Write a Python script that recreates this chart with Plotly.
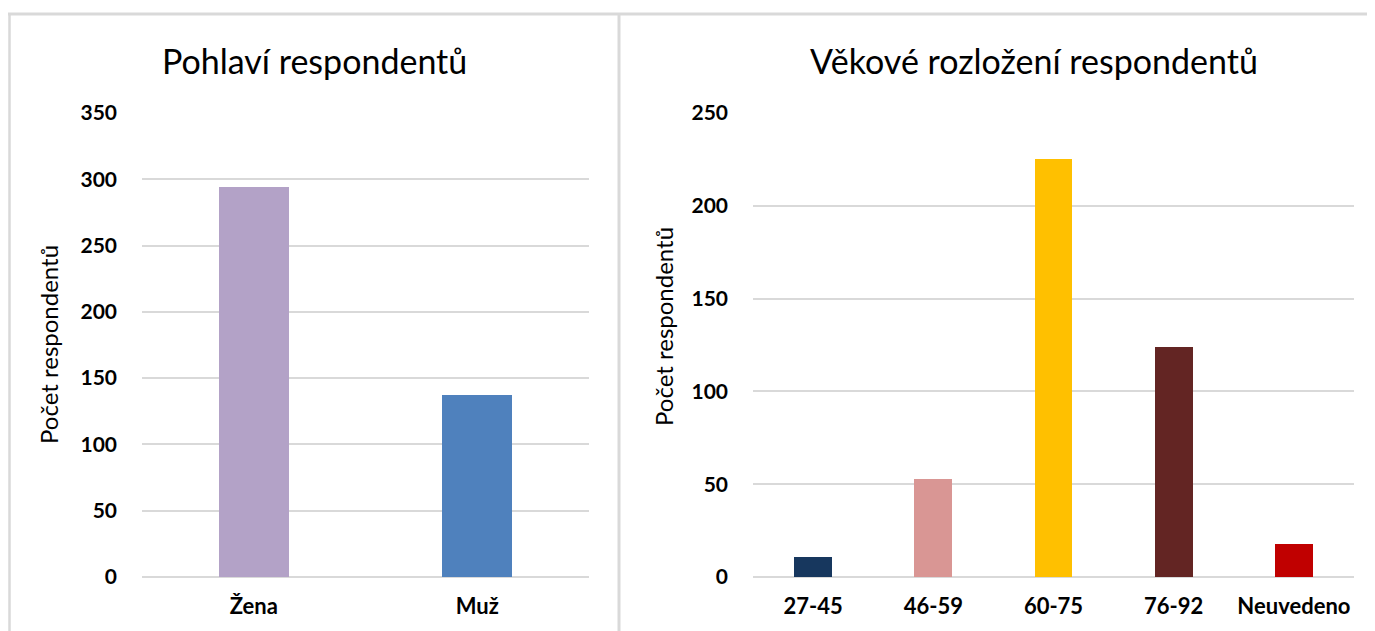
import plotly.graph_objects as go

# Data
gender_categories = ["Žena", "Muž"]
gender_values = [294, 137]
gender_colors = ["#B3A2C7", "#4F81BD"]

age_categories = ["27-45", "46-59", "60-75", "76-92", "Neuvedeno"]
age_values = [11, 53, 225, 124, 18]
age_colors = ["#17375E", "#D99694", "#FFC000", "#632523", "#C00000"]

left_ticks = [0, 50, 100, 150, 200, 250, 300, 350]
right_ticks = [0, 50, 100, 150, 200, 250]

title_left = "Pohlaví respondentů"
title_right = "Věkové rozložení respondentů"
ytitle = "Počet respondentů"

# page has an 8px body margin; figure is sized to fill the rest of the window
OFF = 8
W, H = 1375 - OFF, 631 - OFF
FONT = "Lato"
GRID = "#D9D9D9"

def px(x):
    return (x - OFF) / W

def py(y):
    return (H - (y - OFF)) / H

fig = go.Figure()
fig.add_trace(go.Bar(x=gender_categories, y=gender_values, marker=dict(color=gender_colors, line=dict(width=0)),
                     width=0.313, xaxis="x", yaxis="y", showlegend=False, hoverinfo="x+y"))
fig.add_trace(go.Bar(x=age_categories, y=age_values, marker=dict(color=age_colors, line=dict(width=0)),
                     width=0.316, xaxis="x2", yaxis="y2", showlegend=False, hoverinfo="x+y"))

ytickfont = dict(family=FONT, size=21, color="#000000", weight="bold")
xtickfont = dict(family=FONT, size=22, color="#000000", weight="bold")
ydom = [py(577), py(113)]

common_y = dict(showgrid=True, gridcolor=GRID, gridwidth=2, zeroline=True, zerolinecolor=GRID, zerolinewidth=2,
                showline=False, ticks="", tickfont=ytickfont, ticklabelstandoff=24, fixedrange=True,
                automargin=False)
common_x = dict(type="category", showgrid=False, showline=False, ticks="", tickfont=xtickfont,
                ticklabelstandoff=14, fixedrange=True, automargin=False)

fig.update_layout(
    width=W, height=H,
    autosize=False,
    margin=dict(l=0, r=0, t=0, b=0, pad=0),
    paper_bgcolor="white", plot_bgcolor="white",
    bargap=0,
    xaxis=dict(domain=[px(142), px(589)], anchor="y", **common_x),
    yaxis=dict(domain=ydom, anchor="x", range=[0, 350], tickvals=left_ticks, **common_y),
    xaxis2=dict(domain=[px(753), px(1354)], anchor="y2", **common_x),
    yaxis2=dict(domain=ydom, anchor="x2", range=[0, 250], tickvals=right_ticks, **common_y),
    annotations=[
        dict(text=title_left, x=px(314), y=py(60), xref="paper", yref="paper", showarrow=False,
             font=dict(family=FONT, size=34, color="#000000"), xanchor="center", yanchor="middle"),
        dict(text=title_right, x=px(1034), y=py(60), xref="paper", yref="paper", showarrow=False,
             font=dict(family=FONT, size=34, color="#000000"), xanchor="center", yanchor="middle"),
        dict(text=ytitle, x=px(48), y=py(345), xref="paper", yref="paper", showarrow=False, textangle=-90,
             font=dict(family=FONT, size=24, color="#000000"), xanchor="center", yanchor="middle"),
        dict(text=ytitle, x=px(663), y=py(327), xref="paper", yref="paper", showarrow=False, textangle=-90,
             font=dict(family=FONT, size=24, color="#000000"), xanchor="center", yanchor="middle"),
    ],
    shapes=[
        dict(type="line", xref="paper", yref="paper", x0=px(8), x1=1, y0=py(14), y1=py(14),
             line=dict(color=GRID, width=3)),
        dict(type="line", xref="paper", yref="paper", x0=px(9.5), x1=px(9.5), y0=py(14), y1=0,
             line=dict(color=GRID, width=2.5)),
        dict(type="line", xref="paper", yref="paper", x0=px(619), x1=px(619), y0=py(14), y1=0,
             line=dict(color=GRID, width=3)),
    ],
)

fig.write_html("out.html")
